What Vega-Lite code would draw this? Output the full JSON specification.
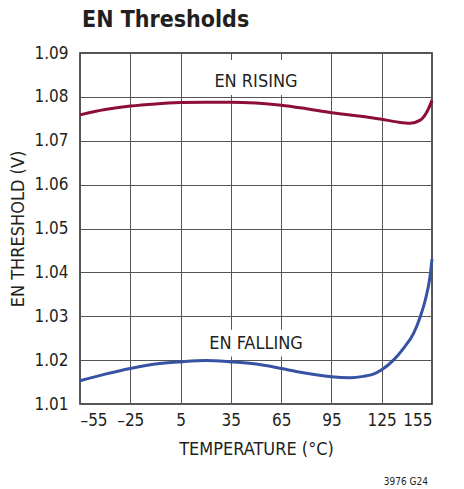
{
  "$schema": "https://vega.github.io/schema/vega-lite/v6.json",
  "width": 352,
  "height": 351,
  "autosize": {"type": "none"},
  "padding": {"left": 80, "top": 53, "right": 32, "bottom": 85},
  "background": "white",
  "title": {
    "text": "EN Thresholds",
    "anchor": "start",
    "frame": "group",
    "font": "DejaVu Sans Condensed, sans-serif",
    "fontSize": 23,
    "fontWeight": "bold",
    "color": "#231f20",
    "offset": 12,
    "dx": 2
  },
  "config": {
    "font": "DejaVu Sans Condensed, sans-serif",
    "view": {"stroke": "#231f20", "strokeWidth": 1.5}
  },
  "datasets": {
    "curves": [
      {"series": "rising", "temp": -55, "v": 1.0759},
      {"series": "rising", "temp": -40, "v": 1.0771},
      {"series": "rising", "temp": -25, "v": 1.0779},
      {"series": "rising", "temp": -10, "v": 1.0784},
      {"series": "rising", "temp": 5, "v": 1.0787},
      {"series": "rising", "temp": 20, "v": 1.0788},
      {"series": "rising", "temp": 35, "v": 1.0788},
      {"series": "rising", "temp": 50, "v": 1.0786},
      {"series": "rising", "temp": 65, "v": 1.0781},
      {"series": "rising", "temp": 80, "v": 1.0773},
      {"series": "rising", "temp": 95, "v": 1.0764},
      {"series": "rising", "temp": 110, "v": 1.0757},
      {"series": "rising", "temp": 118, "v": 1.0753},
      {"series": "rising", "temp": 125, "v": 1.0749},
      {"series": "rising", "temp": 134, "v": 1.0743},
      {"series": "rising", "temp": 142, "v": 1.074},
      {"series": "rising", "temp": 148, "v": 1.0747},
      {"series": "rising", "temp": 152, "v": 1.0766},
      {"series": "rising", "temp": 155, "v": 1.0792},
      {"series": "falling", "temp": -55, "v": 1.0153},
      {"series": "falling", "temp": -40, "v": 1.0168},
      {"series": "falling", "temp": -25, "v": 1.0181},
      {"series": "falling", "temp": -10, "v": 1.0191},
      {"series": "falling", "temp": 5, "v": 1.0196},
      {"series": "falling", "temp": 20, "v": 1.0199},
      {"series": "falling", "temp": 35, "v": 1.0196},
      {"series": "falling", "temp": 50, "v": 1.0191},
      {"series": "falling", "temp": 65, "v": 1.0181},
      {"series": "falling", "temp": 80, "v": 1.017},
      {"series": "falling", "temp": 95, "v": 1.0162},
      {"series": "falling", "temp": 106, "v": 1.016},
      {"series": "falling", "temp": 114, "v": 1.0163},
      {"series": "falling", "temp": 120, "v": 1.0168},
      {"series": "falling", "temp": 125, "v": 1.0178},
      {"series": "falling", "temp": 132, "v": 1.02},
      {"series": "falling", "temp": 138, "v": 1.0227},
      {"series": "falling", "temp": 144, "v": 1.0261},
      {"series": "falling", "temp": 148, "v": 1.0299},
      {"series": "falling", "temp": 151, "v": 1.0337},
      {"series": "falling", "temp": 153.8, "v": 1.039},
      {"series": "falling", "temp": 155, "v": 1.043}
    ],
    "labels": [
      {"label": "EN RISING", "t": 50, "v": 1.0834, "t0": 23, "t1": 77, "v0": 1.0804, "v1": 1.0884},
      {"label": "EN FALLING", "t": 50, "v": 1.0237, "t0": 23, "t1": 77, "v0": 1.0208, "v1": 1.0269}
    ]
  },
  "layer": [
    {
      "data": {"name": "labels"},
      "mark": {"type": "rect", "fill": "white"},
      "encoding": {
        "x": {
          "field": "t0", "type": "quantitative",
          "scale": {"domain": [-55, 155], "nice": false, "zero": false},
          "axis": {
            "values": [-55, -25, 5, 35, 65, 95, 125, 155],
            "labelExpr": "datum.value < 0 ? '–' + abs(datum.value) : '' + datum.value",
            "grid": true, "gridColor": "#555555", "gridWidth": 1,
            "ticks": false, "domain": false,
            "labelFontSize": 17, "labelColor": "#231f20", "labelPadding": 8,
            "title": "TEMPERATURE (°C)", "titleFontSize": 18, "titleFontWeight": "normal",
            "titleColor": "#231f20", "titlePadding": 12
          }
        },
        "x2": {"field": "t1"},
        "y": {
          "field": "v0", "type": "quantitative",
          "scale": {"domain": [1.01, 1.09], "nice": false, "zero": false},
          "axis": {
            "values": [1.01, 1.02, 1.03, 1.04, 1.05, 1.06, 1.07, 1.08, 1.09],
            "format": ".2f",
            "grid": true, "gridColor": "#555555", "gridWidth": 1,
            "ticks": false, "domain": false,
            "labelFontSize": 17, "labelColor": "#231f20", "labelPadding": 12,
            "title": "EN THRESHOLD (V)", "titleFontSize": 18, "titleFontWeight": "normal",
            "titleColor": "#231f20", "titlePadding": 6
          }
        },
        "y2": {"field": "v1"}
      }
    },
    {
      "data": {"name": "labels"},
      "mark": {"type": "text", "fontSize": 18, "color": "#231f20", "baseline": "middle", "align": "center"},
      "encoding": {
        "x": {"field": "t", "type": "quantitative"},
        "y": {"field": "v", "type": "quantitative"},
        "text": {"field": "label"}
      }
    },
    {
      "data": {"name": "curves"},
      "mark": {"type": "line", "interpolate": "monotone", "strokeWidth": 3},
      "encoding": {
        "x": {"field": "temp", "type": "quantitative"},
        "y": {"field": "v", "type": "quantitative"},
        "detail": {"field": "series"},
        "color": {
          "field": "series", "type": "nominal",
          "scale": {"domain": ["rising", "falling"], "range": ["#8e0f35", "#3652a3"]},
          "legend": null
        }
      }
    },
    {
      "data": {"values": [{"note": "3976 G24"}]},
      "mark": {"type": "text", "fontSize": 10, "color": "#231f20", "align": "right", "baseline": "middle", "dy": 78, "dx": -4},
      "encoding": {
        "x": {"datum": 155, "type": "quantitative"},
        "y": {"datum": 1.01, "type": "quantitative"},
        "text": {"field": "note"}
      }
    }
  ]
}
